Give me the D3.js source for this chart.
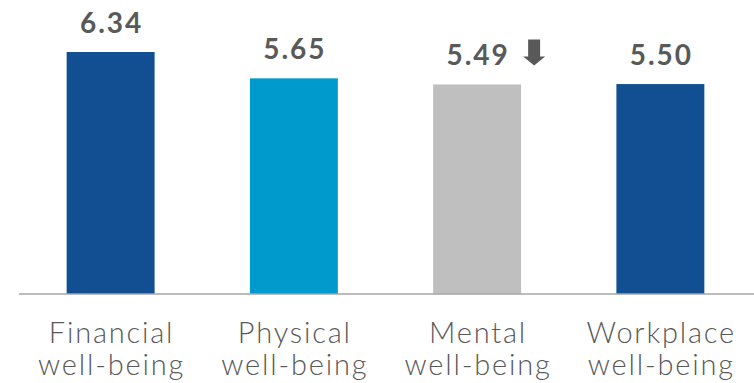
<!DOCTYPE html>
<html>
<head>
<meta charset="utf-8">
<script src="https://cdn.jsdelivr.net/npm/d3@7/dist/d3.min.js"></script>
<style>
  html, body { margin: 0; padding: 0; background: #fff; }
  svg { display: block; }
</style>
</head>
<body>
<svg id="chart" width="754" height="383"></svg>
<script>
// Well-being scores by dimension
const categories = ["Financial well-being", "Physical well-being", "Mental well-being", "Workplace well-being"];
const scores = [6.34, 5.65, 5.49, 5.50];
const barColors = ["#114f92", "#009acd", "#bfbfbf", "#114f92"];
const declined = [false, false, true, false];

const width = 754, height = 383;
const baseline = 294;
const svg = d3.select("#chart");

const x = d3.scaleBand()
  .domain(categories)
  .range([19, 752])
  .paddingInner(0.52)
  .paddingOuter(0.26);

const y = d3.scaleLinear()
  .domain([0, 6.34])
  .range([baseline, 52]);

// Bars
svg.append("g").selectAll("rect")
  .data(categories)
  .join("rect")
  .attr("x", d => x(d))
  .attr("width", x.bandwidth())
  .attr("y", (d, i) => y(scores[i]))
  .attr("height", (d, i) => baseline - y(scores[i]))
  .attr("fill", (d, i) => barColors[i]);

// Category axis along the baseline
const axis = svg.append("g")
  .attr("transform", `translate(0,${baseline})`)
  .call(d3.axisBottom(x).tickSize(0).tickPadding(0));
axis.select(".domain").attr("d", `M19,0H754`).attr("stroke", "#a6a6a6").attr("stroke-width", 1.5);
axis.selectAll(".tick text").remove();
axis.selectAll(".tick").each(function(d) {
  const words = d.split(" ");
  const t = d3.select(this).append("text")
    .attr("text-anchor", "middle")
    .attr("fill", "#595959")
    .style("font-family", "'Century Gothic', Lato, 'Open Sans', sans-serif")
    .style("font-weight", "300")
    .style("font-size", "29px")
    .style("letter-spacing", "1.8px");
  words.forEach((w, i) => {
    t.append("tspan").attr("x", 0.9).attr("y", 49 + i * 32).text(w);
  });
});

// Value labels
svg.append("g").selectAll("text")
  .data(categories)
  .join("text")
  .attr("x", d => x(d) + x.bandwidth() / 2 + 1)
  .attr("y", (d, i) => y(scores[i]) - 19)
  .attr("text-anchor", "middle")
  .attr("fill", "#595959")
  .style("font-family", "'Century Gothic', Lato, 'Open Sans', sans-serif")
  .style("font-weight", "bold")
  .style("font-size", "28px")
  .style("letter-spacing", "2px")
  .text((d, i) => scores[i].toFixed(2));

// Down arrow marking a decline
categories.forEach((c, i) => {
  if (!declined[i]) return;
  const cx = x(c) + x.bandwidth() / 2 + 57;
  const yb = y(scores[i]) - 19;
  svg.append("path")
    .attr("fill", "#595959")
    .attr("d", `M${cx - 6},${yb - 26}H${cx + 6}V${yb - 9}H${cx + 11}L${cx},${yb}L${cx - 11},${yb - 9}H${cx - 6}Z`);
});
</script>
</body>
</html>
